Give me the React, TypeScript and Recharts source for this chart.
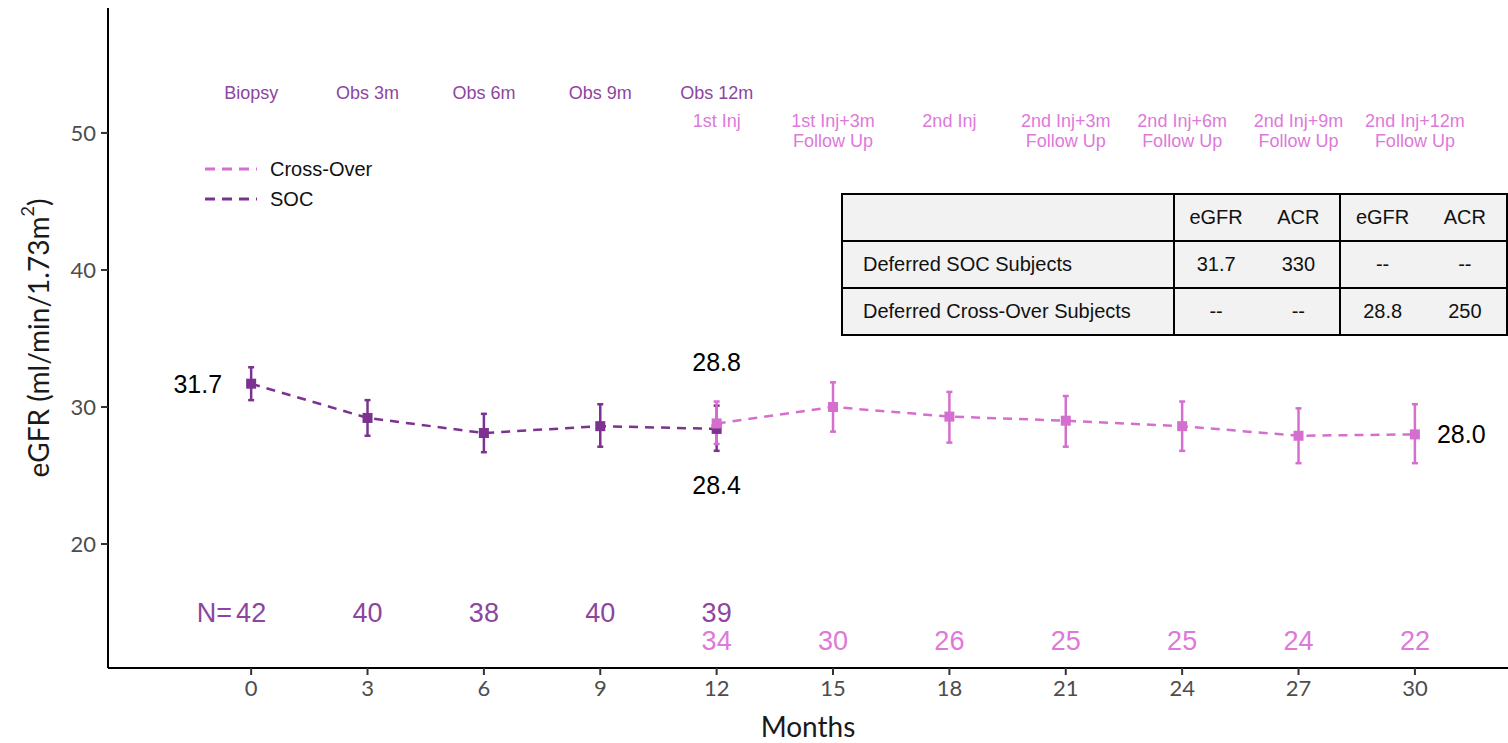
import {
  ComposedChart,
  Line,
  Scatter,
  XAxis,
  YAxis,
  ErrorBar,
  LabelList,
} from "recharts";

// SOC arm (deferred, standard of care)
const socMonths = [0, 3, 6, 9, 12];
const socEgfr = [31.7, 29.2, 28.1, 28.6, 28.4];
const socLow = [30.5, 27.9, 26.7, 27.1, 26.8];
const socHigh = [32.9, 30.5, 29.5, 30.2, 30.1];
const socN = [42, 40, 38, 40, 39];

// Cross-over arm
const coMonths = [12, 15, 18, 21, 24, 27, 30];
const coEgfr = [28.8, 30.0, 29.3, 29.0, 28.6, 27.9, 28.0];
const coLow = [27.3, 28.2, 27.4, 27.1, 26.8, 25.9, 25.9];
const coHigh = [30.4, 31.8, 31.1, 30.8, 30.4, 29.9, 30.2];
const coN = [34, 30, 26, 25, 25, 24, 22];

// visit labels along the top
const socVisitMonths = [0, 3, 6, 9, 12];
const socVisitLabels = ["Biopsy", "Obs 3m", "Obs 6m", "Obs 9m", "Obs 12m"];
const coVisitMonths = [12, 15, 18, 21, 24, 27, 30];
const coVisitLabels = [
  ["1st Inj"],
  ["1st Inj+3m", "Follow Up"],
  ["2nd Inj"],
  ["2nd Inj+3m", "Follow Up"],
  ["2nd Inj+6m", "Follow Up"],
  ["2nd Inj+9m", "Follow Up"],
  ["2nd Inj+12m", "Follow Up"],
];

const xTicks = [0, 3, 6, 9, 12, 15, 18, 21, 24, 27, 30];
const yTicks = [20, 30, 40, 50];

const tableHeader = ["", "eGFR", "ACR", "eGFR", "ACR"];
const tableRows = [
  ["Deferred SOC Subjects", "31.7", "330", "--", "--"],
  ["Deferred Cross-Over Subjects", "--", "--", "28.8", "250"],
];

const SOC = "#7b3290";
const CO = "#d56fcf";
const SOC_TXT = "#8d45a0";
const CO_TXT = "#de78da";
const FONT = "'Liberation Sans', Arial, sans-serif";
const AXIS_FONT = "Lato, 'Open Sans', sans-serif";

const socData = socMonths.map((m, i) => ({
  month: m,
  value: socEgfr[i],
  err: [socEgfr[i] - socLow[i], socHigh[i] - socEgfr[i]],
}));
const coData = coMonths.map((m, i) => ({
  month: m,
  value: coEgfr[i],
  err: [coEgfr[i] - coLow[i], coHigh[i] - coEgfr[i]],
}));

// rows for text placed in data space
const socVisitData = socVisitMonths.map((m, i) => ({ month: m, pos: 52.9, text: [socVisitLabels[i]] }));
const coVisitData = coVisitMonths.map((m, i) => ({ month: m, pos: 50.9, text: coVisitLabels[i] }));
const socNData = socMonths.map((m, i) => ({ month: m, pos: 14.95, text: [String(socN[i])] }));
const coNData = coMonths.map((m, i) => ({ month: m, pos: 12.9, text: [String(coN[i])] }));

const square = (color: string) => (p: any) => (
  <rect key={`sq-${p.index}`} x={p.cx - 5} y={p.cy - 5} width={10} height={10} fill={color} />
);

const textShape = (color: string, size: number, prefix?: string) => (p: any) => (
  <text
    x={p.cx}
    y={p.cy}
    fill={color}
    fontSize={size}
    fontFamily={FONT}
    textAnchor="middle"
    dominantBaseline="central"
  >
    {p.payload.text.map((t: string, i: number) => (
      <tspan key={i} x={p.cx} dy={i === 0 ? 0 : 20}>
        {t}
      </tspan>
    ))}
    {prefix && p.payload.month === 0 ? (
      <tspan x={p.cx - 19} dy={0} textAnchor="end">
        {prefix}
      </tspan>
    ) : null}
  </text>
);

// which points carry a value label and where
const callout = (key: string, x: number, y: number, anchor: string, v: string) => (
  <text key={key} x={x} y={y} fontSize={25} fontFamily={FONT} textAnchor={anchor} dominantBaseline="central">
    {v}
  </text>
);
const socCallout = (p: any) => {
  const v = Number(p.value).toFixed(1);
  if (p.index === 0) return callout("s0", p.x - 29, p.y, "end", v);
  if (p.index === 4) return callout("s4", p.x, p.y + 56, "middle", v);
  return null;
};
const coCallout = (p: any) => {
  const v = Number(p.value).toFixed(1);
  if (p.index === 0) return callout("c0", p.x, p.y - 61, "middle", v);
  if (p.index === coData.length - 1) return callout("c6", p.x + 22, p.y, "start", v);
  return null;
};

const YLabel = (props: any) => {
  const vb = props.viewBox || {};
  const cx = 38;
  const cy = vb.y + vb.height / 2;
  return (
    <text
      x={cx}
      y={cy}
      transform={`rotate(-90 ${cx} ${cy})`}
      textAnchor="middle"
      dominantBaseline="central"
      fontSize={28}
      fontFamily={AXIS_FONT}
      fill="#1a1a1a"
    >
      eGFR (ml/min/1.73m
      <tspan baselineShift="super" fontSize={18}>
        2
      </tspan>
      )
    </text>
  );
};

const cell: any = {
  border: "2px solid #000",
  padding: 0,
  height: 45,
  fontSize: 20,
  fontFamily: "'Liberation Sans Narrow', 'Liberation Sans', Roboto, sans-serif",
  color: "#111",
};

export default function App() {
  return (
    <div style={{ position: "absolute", left: 0, top: 0, width: 1508, height: 743, background: "#fff" }}>
      <ComposedChart width={1508} height={743} margin={{ top: 8, right: 0, bottom: 0, left: 0 }}>
        <XAxis
          dataKey="month"
          type="number"
          domain={[-3.69, 32.4]}
          ticks={xTicks}
          allowDataOverflow
          axisLine={{ stroke: "#000", strokeWidth: 2 }}
          tickLine={{ stroke: "#333", strokeWidth: 2 }}
          tickSize={7}
          tickMargin={5}
          tick={{ fill: "#4d4d4d", fontSize: 22, fontFamily: AXIS_FONT }}
          height={75}
          label={{
            value: "Months",
            position: "insideBottom",
            offset: 6,
            fill: "#1a1a1a",
            fontSize: 28,
            fontFamily: AXIS_FONT,
          }}
        />
        <YAxis
          type="number"
          domain={[10.95, 59.12]}
          ticks={yTicks}
          allowDataOverflow
          width={108}
          axisLine={{ stroke: "#000", strokeWidth: 2 }}
          tickLine={{ stroke: "#333", strokeWidth: 2 }}
          tickSize={7}
          tickMargin={5}
          tick={{ fill: "#4d4d4d", fontSize: 22, fontFamily: AXIS_FONT }}
          label={<YLabel />}
        />

        <Line
          data={socData}
          dataKey="value"
          stroke={SOC}
          strokeWidth={2.5}
          strokeDasharray="9 7"
          dot={square(SOC)}
          activeDot={false}
          isAnimationActive={false}
        >
          <ErrorBar dataKey="err" direction="y" width={3} stroke={SOC} strokeWidth={2.5} />
          <LabelList dataKey="value" content={socCallout} />
        </Line>
        <Line
          data={coData}
          dataKey="value"
          stroke={CO}
          strokeWidth={2.5}
          strokeDasharray="9 7"
          dot={square(CO)}
          activeDot={false}
          isAnimationActive={false}
        >
          <ErrorBar dataKey="err" direction="y" width={3} stroke={CO} strokeWidth={2.5} />
          <LabelList dataKey="value" content={coCallout} />
        </Line>

        <Scatter data={socVisitData} dataKey="pos" shape={textShape(SOC_TXT, 18)} isAnimationActive={false} />
        <Scatter data={coVisitData} dataKey="pos" shape={textShape(CO_TXT, 18)} isAnimationActive={false} />
        <Scatter data={socNData} dataKey="pos" shape={textShape(SOC_TXT, 27, "N=")} isAnimationActive={false} />
        <Scatter data={coNData} dataKey="pos" shape={textShape(CO_TXT, 27)} isAnimationActive={false} />
      </ComposedChart>

      <div style={{ position: "absolute", left: 205, top: 154, fontFamily: FONT, fontSize: 20, color: "#111" }}>
        {[
          { name: "Cross-Over", color: CO },
          { name: "SOC", color: SOC },
        ].map((it) => (
          <div key={it.name} style={{ display: "flex", alignItems: "center", height: 30 }}>
            <svg width={52} height={10}>
              <line x1={0} y1={5} x2={52} y2={5} stroke={it.color} strokeWidth={3} strokeDasharray="10 7" />
            </svg>
            <span style={{ marginLeft: 13 }}>{it.name}</span>
          </div>
        ))}
      </div>

      <table
        style={{
          position: "absolute",
          left: 841,
          top: 193,
          width: 667,
          borderCollapse: "collapse",
          background: "#f2f2f2",
        }}
      >
        <tbody>
          {[tableHeader, ...tableRows].map((row, r) => (
            <tr key={r}>
              {row.map((c, i) => (
                <td
                  key={i}
                  style={{
                    ...cell,
                    width: i === 0 ? 305 : 81,
                    textAlign: i === 0 ? "left" : "center",
                    paddingLeft: i === 0 ? 20 : 0,
                    borderLeft: i === 2 || i === 4 ? "none" : cell.border,
                    borderRight: i === 1 || i === 3 ? "none" : cell.border,
                  }}
                >
                  {c}
                </td>
              ))}
            </tr>
          ))}
        </tbody>
      </table>
    </div>
  );
}
